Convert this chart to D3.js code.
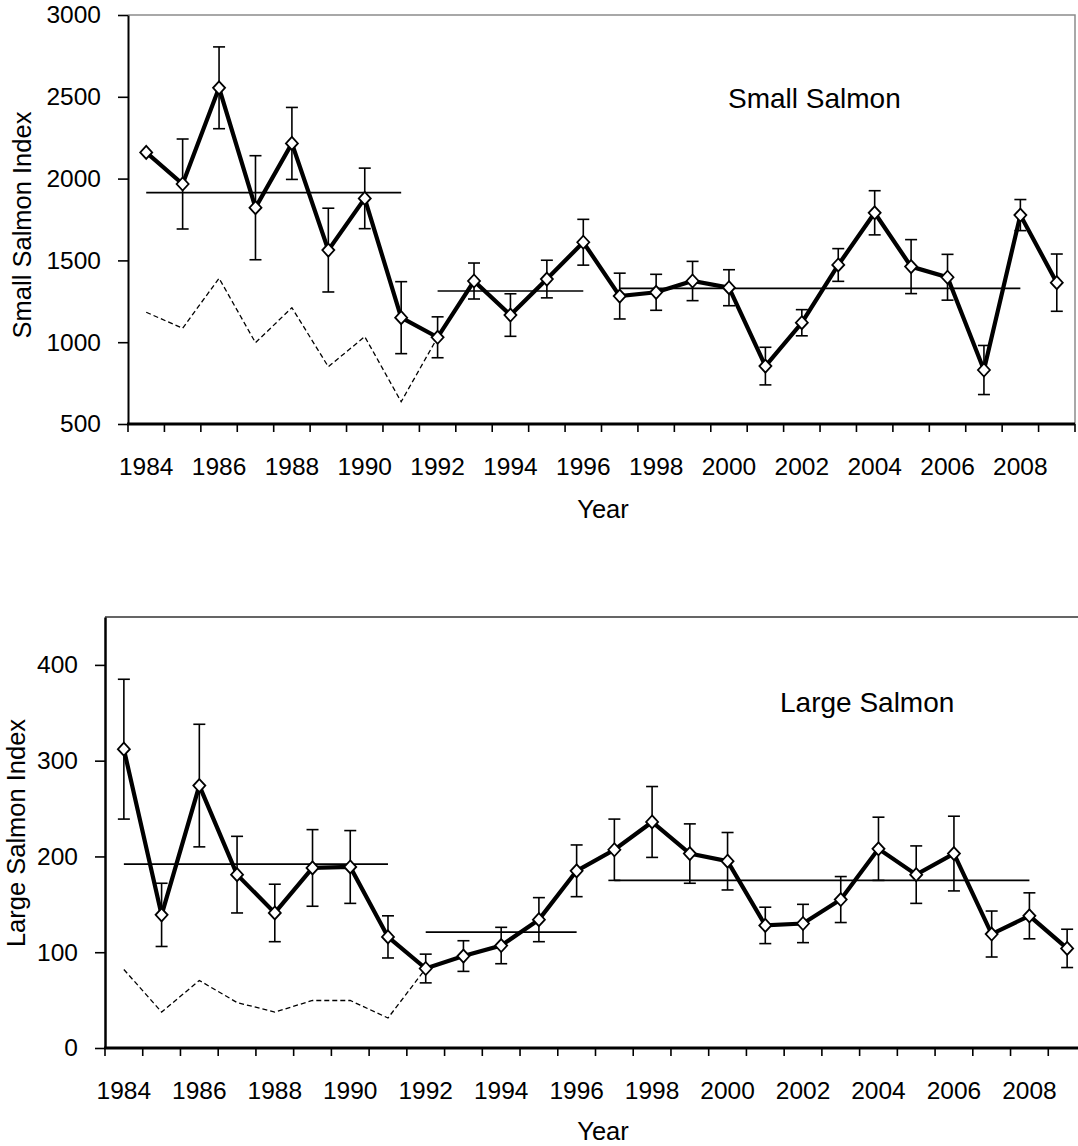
<!DOCTYPE html>
<html>
<head>
<meta charset="utf-8">
<script src="https://cdn.jsdelivr.net/npm/d3@7"></script>
<style>
  body { margin: 0; background: #fff; }
  svg text { font-family: "Liberation Sans", Arial, sans-serif; fill: #000; }
</style>
</head>
<body>
<svg id="chart" width="1078" height="1146"></svg>
<script>
// categories
var years = [1984, 1985, 1986, 1987, 1988, 1989, 1990, 1991, 1992, 1993, 1994, 1995, 1996,
    1997, 1998, 1999, 2000, 2001, 2002, 2003, 2004, 2005, 2006, 2007, 2008, 2009];
var yearLabels = [1984, 1986, 1988, 1990, 1992, 1994, 1996, 1998, 2000, 2002, 2004, 2006, 2008];

// small salmon
var smallIndex = [2160, 1967, 2555, 1822, 2215, 1563, 1879, 1150, 1030, 1374, 1166, 1386, 1611,
    1282, 1305, 1374, 1333, 854, 1119, 1472, 1791, 1462, 1397, 830, 1777, 1364];
var smallErr = [null, 275, 250, 318, 220, 256, 185, 220, 125, 110, 130, 115, 140,
    140, 110, 120, 110, 115, 80, 100, 135, 165, 140, 150, 95, 175];
var smallOld = [1183, 1085, 1391, 997, 1211, 850, 1034, 636, 1030];   // dashed, 1984-1992
var smallMeanFrom = [1984, 1992, 1997];
var smallMeanTo = [1991, 1996, 2008];
var smallMean = [1914, 1313, 1329];
var smallTicks = [500, 1000, 1500, 2000, 2500, 3000];

// large salmon
var largeIndex = [312, 139, 274, 181, 141, 188, 189, 116, 83, 96, 107, 134, 185,
    207, 236, 203, 195, 128, 130, 155, 208, 181, 203, 119, 138, 104];
var largeErr = [73, 33, 64, 40, 30, 40, 38, 22, 15, 16, 19, 23, 27,
    32, 37, 31, 30, 19, 20, 24, 33, 30, 39, 24, 24, 20];
var largeOld = [82, 37.5, 70.5, 47.5, 37.5, 49.6, 49.6, 31.3, 83];
var largeMeanFrom = [1984, 1992, 1997];
var largeMeanTo = [1991, 1996, 2008];
var largeMean = [192, 121, 175];
var largeTicks = [0, 100, 200, 300, 400];

var svg = d3.select("#chart");

function panel(opt) {

    var x = d3.scaleBand().domain(years).range([opt.left, opt.right]);
    var bw = x.bandwidth();
    var cx = function (yr) { return x(yr) + bw / 2; };

    var y = d3.scaleLinear().domain(opt.domain).range([opt.bottom, opt.top]);

    var g = svg.append("g");

    // frame (top + right)
    g.append("path")
        .attr("d", "M" + opt.left + "," + opt.top + "H" + opt.right + "V" + opt.bottom)
        .attr("fill", "none")
        .attr("stroke", opt.frameColor)
        .attr("stroke-width", 1.5);

    // error bars
    var eb = g.append("g").attr("stroke", "#000").attr("stroke-width", 1.6);
    years.forEach(function (yr, i) {
        var e = opt.err[i];
        if (e == null) return;
        var v = opt.values[i], px = cx(yr);
        eb.append("line").attr("x1", px).attr("x2", px).attr("y1", y(v + e)).attr("y2", y(v - e));
        eb.append("line").attr("x1", px - 6).attr("x2", px + 6).attr("y1", y(v + e)).attr("y2", y(v + e));
        eb.append("line").attr("x1", px - 6).attr("x2", px + 6).attr("y1", y(v - e)).attr("y2", y(v - e));
    });

    // old series, dashed
    var line = d3.line()
        .x(function (d) { return cx(d[0]); })
        .y(function (d) { return y(d[1]); });

    g.append("path")
        .datum(opt.old.map(function (v, i) { return [years[i], v]; }))
        .attr("fill", "none")
        .attr("stroke", "#000")
        .attr("stroke-width", 1.3)
        .attr("stroke-dasharray", "5,3")
        .attr("d", line);

    // period means
    opt.mean.forEach(function (v, i) {
        g.append("line")
            .attr("x1", cx(opt.meanFrom[i]))
            .attr("x2", cx(opt.meanTo[i]))
            .attr("y1", y(v))
            .attr("y2", y(v))
            .attr("stroke", "#000")
            .attr("stroke-width", 1.6);
    });

    // main series
    var pts = opt.values.map(function (v, i) { return [years[i], v]; });
    g.append("path")
        .datum(pts)
        .attr("fill", "none")
        .attr("stroke", "#000")
        .attr("stroke-width", 4.2)
        .attr("stroke-linejoin", "miter")
        .attr("d", line);

    g.selectAll(".dia")
        .data(pts)
        .enter()
        .append("path")
        .attr("class", "dia")
        .attr("transform", function (d) { return "translate(" + cx(d[0]) + "," + y(d[1]) + ")"; })
        .attr("d", "M0,-6.5L6,0L0,6.5L-6,0Z")
        .attr("fill", "#fff")
        .attr("stroke", "#000")
        .attr("stroke-width", 1.8);

    // y axis
    var ya = g.append("g")
        .attr("transform", "translate(" + opt.left + ",0)")
        .call(d3.axisLeft(y).tickValues(opt.ticks).tickFormat(d3.format("d"))
            .tickSize(10).tickPadding(17).tickSizeOuter(0));
    ya.select(".domain").attr("stroke-width", opt.yAxisWidth);
    ya.selectAll(".tick line").attr("stroke-width", 1.6);
    ya.selectAll("text").style("font-size", "24.5px").style("font-family", "Liberation Sans, Arial, sans-serif");

    // x axis: ticks on category boundaries, labels at centres
    g.append("line")
        .attr("x1", opt.left - 1).attr("x2", opt.right)
        .attr("y1", opt.bottom).attr("y2", opt.bottom)
        .attr("stroke", "#000").attr("stroke-width", 3);

    g.selectAll(".xt")
        .data(years.concat(["end"]))
        .enter()
        .append("line")
        .attr("x1", function (d) { return d === "end" ? opt.right : x(d); })
        .attr("x2", function (d) { return d === "end" ? opt.right : x(d); })
        .attr("y1", opt.bottom)
        .attr("y2", opt.bottom + 8)
        .attr("stroke", "#000")
        .attr("stroke-width", 1.6);

    g.selectAll(".xl")
        .data(yearLabels)
        .enter()
        .append("text")
        .attr("x", cx)
        .attr("y", opt.bottom + 51)
        .attr("text-anchor", "middle")
        .style("font-size", "24.5px")
        .text(function (d) { return d; });

    g.append("text")
        .attr("x", 603)
        .attr("y", opt.bottom + opt.yearGap)
        .attr("text-anchor", "middle")
        .style("font-size", "25.5px")
        .text("Year");

    g.append("text")
        .attr("transform", "translate(" + opt.titleX + "," + opt.titleY + ") rotate(-90)")
        .attr("text-anchor", "middle")
        .style("font-size", "25.5px")
        .text(opt.title);

    g.append("text")
        .attr("x", opt.label[0])
        .attr("y", opt.label[1])
        .style("font-size", "28px")
        .text(opt.name);
}

panel({
    left: 128, right: 1075, top: 15, bottom: 424,
    domain: [500, 3000], ticks: smallTicks,
    values: smallIndex, err: smallErr, old: smallOld,
    mean: smallMean, meanFrom: smallMeanFrom, meanTo: smallMeanTo,
    frameColor: "#8c8c8c", yAxisWidth: 2,
    title: "Small Salmon Index", titleX: 31, titleY: 225,
    name: "Small Salmon", label: [728, 108],
    yearGap: 94
});

panel({
    left: 105, right: 1086, top: 617, bottom: 1048,
    domain: [0, 450], ticks: largeTicks,
    values: largeIndex, err: largeErr, old: largeOld,
    mean: largeMean, meanFrom: largeMeanFrom, meanTo: largeMeanTo,
    frameColor: "#333", yAxisWidth: 2.5,
    title: "Large Salmon Index", titleX: 25, titleY: 833,
    name: "Large Salmon", label: [780, 712],
    yearGap: 92
});
</script>
</body>
</html>
